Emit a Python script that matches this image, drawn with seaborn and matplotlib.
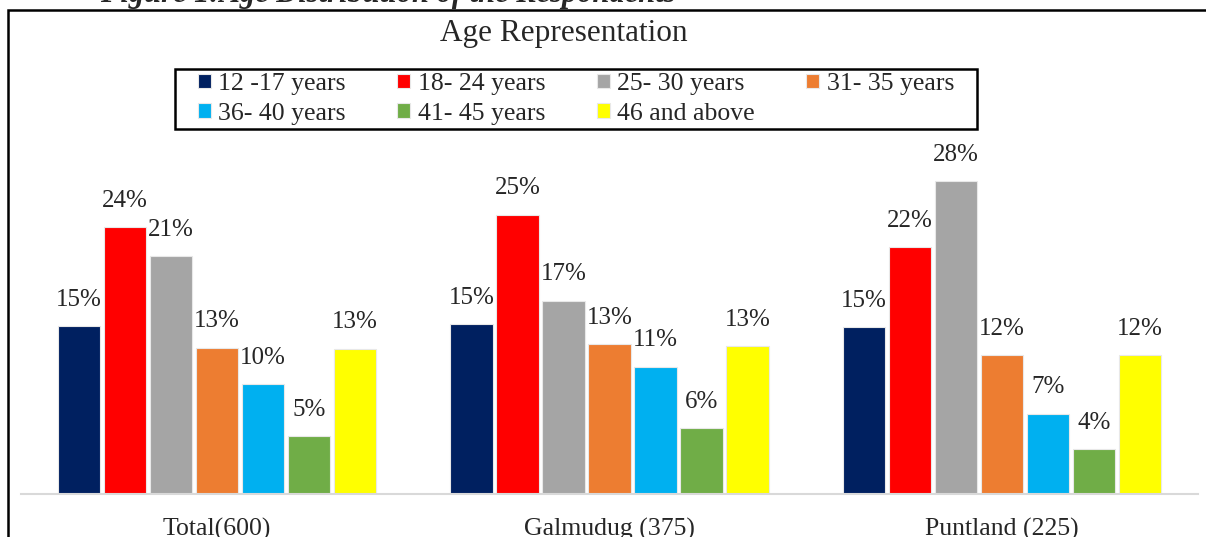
import numpy as np
import pandas as pd
import matplotlib
matplotlib.use("Agg")
import matplotlib.pyplot as plt
import matplotlib.patches as patches
import seaborn as sns

# data (percent of respondents)
regions = ["Total(600)", "Galmudug (375)", "Puntland (225)"]
age_groups = ["12 -17 years", "18- 24 years", "25- 30 years", "31- 35 years",
              "36- 40 years", "41- 45 years", "46 and above"]
total_vals = [15.0, 23.9, 21.3, 13.1, 9.8, 5.2, 13.0]
galmudug_vals = [15.2, 25.0, 17.3, 13.4, 11.4, 5.9, 13.2]
puntland_vals = [14.9, 22.1, 28.0, 12.4, 7.2, 4.0, 12.4]
colors = ["#002060", "#FF0000", "#A5A5A5", "#ED7D31", "#00B0F0", "#70AD47", "#FFFF00"]

rows = []
for region, vals in zip(regions, [total_vals, galmudug_vals, puntland_vals]):
    for age, v in zip(age_groups, vals):
        rows.append({"region": region, "age": age, "value": v})
df = pd.DataFrame(rows)

sns.set_style("white")
plt.rcParams["font.family"] = ["Liberation Serif", "DejaVu Serif"]

W, H = 1206, 537
fig = plt.figure(figsize=(W / 100, H / 100), dpi=100)
ax = fig.add_axes([0.0174, 0.080, 0.976, 0.6246])

sns.barplot(data=df, x="region", y="value", hue="age", hue_order=age_groups,
            palette=colors, saturation=1, width=0.82, gap=0.08,
            edgecolor="#E8E8E8", linewidth=0.8, ax=ax)

for cont in ax.containers:
    ax.bar_label(cont, fmt="{:.0f}%", padding=11, fontsize=18)

ax.set_ylim(0, 30)
ax.set_xlim(-0.5, 2.5)
ax.set_xlabel("")
ax.set_ylabel("")
ax.set_yticks([])
for side in ["left", "right", "top"]:
    ax.spines[side].set_visible(False)
ax.spines["bottom"].set_color("#D9D9D9")
ax.spines["bottom"].set_linewidth(1.5)
ax.tick_params(axis="x", which="major", length=0, pad=17.5, labelsize=18.5)
ax.set_xticks([-0.5, 0.5, 1.5, 2.5], minor=True)
ax.tick_params(axis="x", which="minor", length=8, width=1.5, color="#D9D9D9")

# legend laid out row by row, boxed separately
handles, labels = ax.get_legend_handles_labels()
ax.get_legend().remove()
order = [0, 4, 1, 5, 2, 6, 3]
leg = ax.legend([handles[i] for i in order], [labels[i] for i in order],
                ncol=4, loc="center", bbox_to_anchor=(576 / W, 1 - 99 / H),
                bbox_transform=fig.transFigure, fontsize=18.5, frameon=False,
                handlelength=0.5, handleheight=0.5, handletextpad=0.3,
                columnspacing=2.0, labelspacing=0.3, borderpad=0.0)
fig.add_artist(patches.Rectangle((175 / W, 1 - 129 / H), 802 / W, 60 / H,
                                 fill=False, edgecolor="black", linewidth=1.8,
                                 transform=fig.transFigure))

fig.text(564 / W, 1 - 34 / H, "Age Representation", ha="center", va="center",
         fontsize=22.5)

# cut-off caption and outer frame from the source document
fig.text(100 / W, 1 - 2 / H, "Figure 1:Age Distribution of the Respondents",
         fontsize=22, fontweight="bold", style="italic", va="baseline")
fig.add_artist(patches.Rectangle((8 / W, -0.1), 1.2, 1.1 - 10 / H,
                                 fill=False, edgecolor="black", linewidth=1.8,
                                 transform=fig.transFigure, clip_on=False))

fig.savefig("out.png", dpi=100)
